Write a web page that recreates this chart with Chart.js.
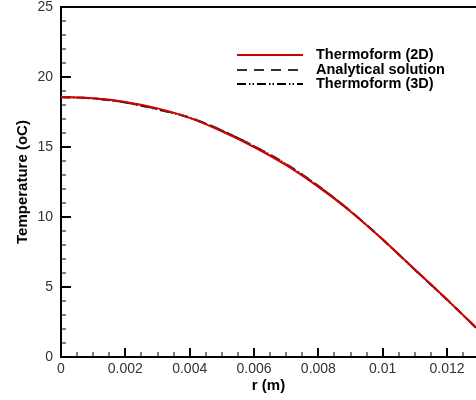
<!DOCTYPE html>
<html lang="en">
<head>
    <meta charset="UTF-8">
    <title>Temperature vs r</title>
    <script src="https://cdn.jsdelivr.net/npm/chart.js"></script>
    <style>
        html, body { margin: 0; padding: 0; background: #fff; }
        .wrap { width: 476px; height: 400px; }
    </style>
</head>
<body>
    <div class="wrap">
        <canvas id="myChart" width="476" height="400"></canvas>
    </div>

    <script>
        // r (m) and temperature readings
        const rValues     = [0, 0.001, 0.002, 0.003, 0.004, 0.005, 0.006, 0.007, 0.008, 0.009, 0.010, 0.011, 0.012, 0.0129]
        const t2D         = [18.57, 18.48, 18.22, 17.76, 17.08, 16.12, 15.00, 13.70, 12.15, 10.40, 8.40, 6.25, 4.10, 2.10]
        const tAnalytical = [18.57, 18.47, 18.19, 17.70, 17.10, 16.18, 15.06, 13.78, 12.22, 10.42, 8.40, 6.24, 4.10, 2.10]
        const t3D         = [18.56, 18.46, 18.18, 17.69, 17.09, 16.17, 15.05, 13.76, 12.20, 10.41, 8.39, 6.23, 4.09, 2.09]

        const xTicks = [0, 0.002, 0.004, 0.006, 0.008, 0.01, 0.012]
        const yTicks = [0, 5, 10, 15, 20, 25]
        const xMinorStep = 0.0005
        const yMinorStep = 1
        const xMax = 0.0129

        const labels = ['Thermoform (2D)', 'Analytical solution', 'Thermoform (3D)']

        const pts = (ys) => rValues.map((r, i) => ({ x: r, y: ys[i] }))
        const FONT = '"Liberation Sans", Arial, sans-serif'

        // inward tick marks, top frame line and the legend
        const decorPlugin = {
            id: 'decor',
            afterDraw(chart) {
                const ctx = chart.ctx
                const xs = chart.scales.x
                const ys = chart.scales.y
                const a = chart.chartArea
                ctx.save()
                ctx.strokeStyle = '#000'

                // top line
                ctx.lineWidth = 2
                ctx.beginPath()
                ctx.moveTo(a.left, a.top)
                ctx.lineTo(a.right, a.top)
                ctx.stroke()

                // y ticks
                for (let v = 0; v <= 25 + 1e-9; v += yMinorStep) {
                    const y = Math.round(ys.getPixelForValue(v))
                    const major = Math.abs(v % 5) < 1e-9
                    ctx.lineWidth = major ? 2 : 1
                    ctx.beginPath()
                    ctx.moveTo(a.left, y)
                    ctx.lineTo(a.left + (major ? 10 : 5), y)
                    ctx.stroke()
                }
                // x ticks
                for (let i = 0; i * xMinorStep <= xMax + 1e-12; i++) {
                    const v = i * xMinorStep
                    const x = Math.round(xs.getPixelForValue(v))
                    const major = i % 4 === 0
                    ctx.lineWidth = major ? 2 : 1
                    ctx.beginPath()
                    ctx.moveTo(x, a.bottom)
                    ctx.lineTo(x, a.bottom - (major ? 9 : 5))
                    ctx.stroke()
                }

                // legend
                const rowsY = [55, 70, 84]
                chart.data.datasets.forEach((ds, i) => {
                    const y = rowsY[i]
                    ctx.strokeStyle = ds.borderColor
                    ctx.lineWidth = ds.borderWidth
                    ctx.setLineDash(ds.borderDash || [])
                    ctx.beginPath()
                    ctx.moveTo(237, y)
                    ctx.lineTo(303, y)
                    ctx.stroke()
                    ctx.setLineDash([])
                    ctx.fillStyle = '#000'
                    ctx.font = 'bold 14.5px ' + FONT
                    ctx.textBaseline = 'middle'
                    ctx.textAlign = 'left'
                    ctx.fillText(ds.label, 316, y)
                })
                ctx.restore()
            }
        }

        const ctx = document.getElementById('myChart').getContext('2d')
        const myChart = new Chart(ctx, {
            type: 'line',
            data: {
                datasets: [
                    {
                        label: labels[0],
                        data: pts(t2D),
                        borderColor: 'rgb(210, 0, 0)',
                        borderWidth: 2,
                        pointRadius: 0,
                        cubicInterpolationMode: 'monotone',
                        fill: false
                    },
                    {
                        label: labels[1],
                        data: pts(tAnalytical),
                        borderColor: 'rgb(50, 50, 50)',
                        borderWidth: 2,
                        borderDash: [10, 7],
                        pointRadius: 0,
                        cubicInterpolationMode: 'monotone',
                        fill: false
                    },
                    {
                        label: labels[2],
                        data: pts(t3D),
                        borderColor: '#000',
                        borderWidth: 2,
                        borderDash: [9, 3, 1.5, 2, 1.5, 3],
                        pointRadius: 0,
                        cubicInterpolationMode: 'monotone',
                        fill: false
                    }
                ]
            },
            options: {
                responsive: false,
                animation: false,
                layout: { padding: 0 },
                plugins: {
                    legend: { display: false },
                    tooltip: { enabled: false }
                },
                scales: {
                    x: {
                        type: 'linear',
                        min: 0,
                        max: xMax,
                        afterBuildTicks: (s) => { s.ticks = xTicks.map(v => ({ value: v })) },
                        afterFit: (s) => { s.height = 43; s.paddingLeft = 0; s.paddingRight = 0 },
                        grid: { drawOnChartArea: false, drawTicks: false },
                        border: { display: true, color: '#000', width: 2 },
                        ticks: {
                            padding: 4,
                            color: '#333',
                            font: { family: FONT, size: 14 },
                            maxRotation: 0,
                            callback: (v) => String(+v.toFixed(4))
                        },
                        title: {
                            display: true,
                            text: 'r (m)',
                            color: '#000',
                            font: { family: FONT, size: 15, weight: 'bold' },
                            padding: { top: 0, bottom: 5 }
                        }
                    },
                    y: {
                        min: 0,
                        max: 25,
                        afterBuildTicks: (s) => { s.ticks = yTicks.map(v => ({ value: v })) },
                        afterFit: (s) => { s.width = 61; s.paddingTop = 7; s.paddingBottom = 0 },
                        grid: { drawOnChartArea: false, drawTicks: false },
                        border: { display: true, color: '#000', width: 2 },
                        ticks: {
                            padding: 8,
                            color: '#333',
                            font: { family: FONT, size: 14 }
                        },
                        title: {
                            display: true,
                            text: 'Temperature (oC)',
                            color: '#000',
                            font: { family: FONT, size: 15, weight: 'bold' },
                            padding: { top: 14, bottom: 0 }
                        }
                    }
                }
            },
            plugins: [decorPlugin]
        })
    </script>
</body>
</html>
